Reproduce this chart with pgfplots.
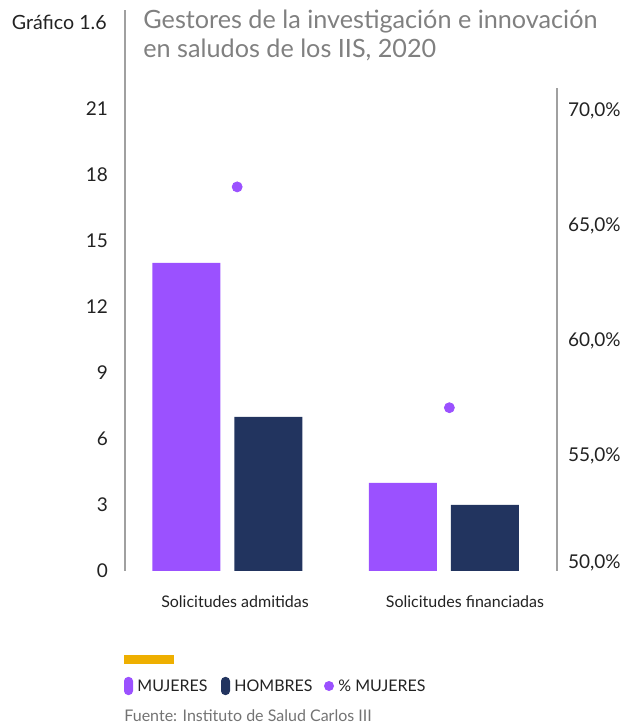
\documentclass[border=0pt]{standalone}
\usepackage{pgfplots}
\pgfplotsset{compat=1.18}
\usepackage{fontspec}
\setmainfont{Lato}
\definecolor{muj}{HTML}{9B51FF}
\definecolor{hom}{HTML}{22345F}
\definecolor{oro}{HTML}{EEAF00}
\definecolor{gristit}{HTML}{808080}
\definecolor{grilin}{HTML}{A0A0A0}
\definecolor{texto}{HTML}{222222}

\begin{document}
\begin{tikzpicture}
\path[use as bounding box] (-62.5pt,-77.5pt) rectangle (252.5pt,285.5pt);
% eje izquierdo: barras
\begin{axis}[
    at={(0,0)}, anchor=south west, scale only axis,
    width=216pt, height=241.5pt,
    xmin=-0.473, xmax=1.522,
    ymin=0, ymax=21.95,
    ybar=7pt, bar width=34pt,
    axis y line*=left, axis x line*=bottom,
    x axis line style={draw=none},
    y axis line style={grilin, line width=0.75pt},
    major tick length=0pt,
    xtick={0.035,1.097},
    xticklabels={Solicitudes admitidas, Solicitudes financiadas},
    xticklabel style={font=\fontsize{8}{9.5}\selectfont, text=texto, yshift=-9pt},
    ytick={0,3,...,21},
    yticklabel style={font=\fontsize{9.5}{10}\selectfont, text=texto, xshift=-5pt},
    /pgf/number format/assume math mode=true,
    clip=false
]
\addplot[fill=muj, draw=none] coordinates {(0,14) (1,4)};
\addplot[fill=hom, draw=none] coordinates {(0,7) (1,3)};
\end{axis}
% eje derecho: % mujeres
\begin{axis}[
    at={(0,0)}, anchor=south west, scale only axis,
    width=216pt, height=241.5pt,
    xmin=-0.473, xmax=1.522,
    ymin=50, ymax=71.0,
    axis y line*=right, axis x line=none,
    y axis line style={grilin, line width=0.75pt},
    major tick length=0pt,
    xtick=\empty,
    ytick={50,55,...,70},
    yticklabel={\pgfmathparse{\tick<51}\ifdim\pgfmathresult pt>0.5pt\raisebox{9pt}{\pgfmathprintnumber[fixed,fixed zerofill,precision=1,use comma]{\tick}\%}\else\pgfmathprintnumber[fixed,fixed zerofill,precision=1,use comma]{\tick}\%\fi},
    yticklabel style={font=\fontsize{9.5}{10}\selectfont, text=texto, xshift=2pt},
    /pgf/number format/assume math mode=true,
    clip=false
]
\addplot[only marks, mark=*, mark size=2.5pt, color=muj] coordinates {(0.045,66.7) (1.025,57.1)};
\end{axis}
% cabecera
\draw[grilin, line width=0.75pt] (0,241.5pt) -- (0,280.5pt);
\node[anchor=east, text=texto, font=\fontsize{9.8}{11}\selectfont, inner sep=0pt] at (-9pt,274.5pt) {Gráfico 1.6};
\node[anchor=west, text=gristit, font=\fontsize{12.6}{14}\selectfont, inner sep=0pt] at (9pt,274.5pt) {Gestores de la investigación e innovación};
\node[anchor=west, text=gristit, font=\fontsize{12.6}{14}\selectfont, inner sep=0pt] at (9pt,260.5pt) {en saludos de los IIS, 2020};
% leyenda
\fill[oro] (-0.5pt,-42pt) rectangle (24.5pt,-46.5pt);
\fill[muj, rounded corners=2pt] (-0.5pt,-53pt) rectangle (4pt,-62pt);
\node[anchor=west, text=texto, font=\fontsize{8}{9}\selectfont, inner sep=0pt] at (6pt,-57.5pt) {MUJERES};
\fill[hom, rounded corners=2pt] (48pt,-53pt) rectangle (52.5pt,-62pt);
\node[anchor=west, text=texto, font=\fontsize{8}{9}\selectfont, inner sep=0pt] at (54.5pt,-57.5pt) {HOMBRES};
\fill[muj] (102pt,-57.5pt) circle (2.5pt);
\node[anchor=west, text=texto, font=\fontsize{8}{9}\selectfont, inner sep=0pt] at (106.5pt,-57.5pt) {\% MUJERES};
\node[anchor=west, text=gristit!90!black, font=\fontsize{8}{9}\selectfont, inner sep=0pt] at (-0.5pt,-72.5pt) {Fuente: Instituto de Salud Carlos III};
\end{tikzpicture}
\end{document}
